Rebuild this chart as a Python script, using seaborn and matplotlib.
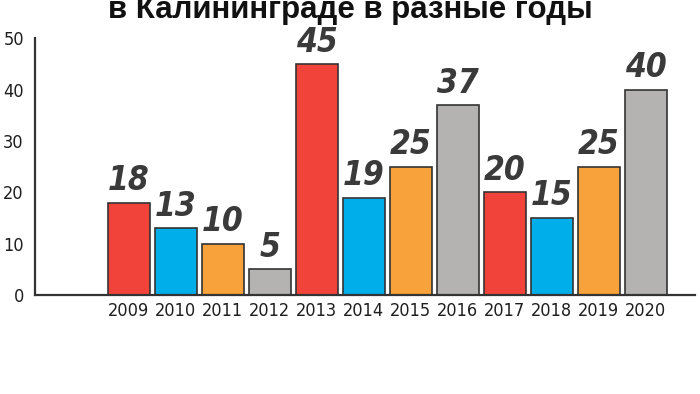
import pandas as pd
import matplotlib.pyplot as plt
import seaborn as sns

# Data
years = ['2009', '2010', '2011', '2012', '2013', '2014',
         '2015', '2016', '2017', '2018', '2019', '2020']
values = [18, 13, 10, 5, 45, 19, 25, 37, 20, 15, 25, 40]
bar_colors = ['#f2433a', '#00aee9', '#f7a23a', '#b5b3b2',
              '#f2433a', '#00aee9', '#f7a23a', '#b5b3b2',
              '#f2433a', '#00aee9', '#f7a23a', '#b5b3b2']
y_ticks = [0, 10, 20, 30, 40, 50]
title = 'в Калининграде в разные годы'

data = pd.DataFrame({'year': years, 'value': values})

sns.set_style('white')
plt.rcParams['font.family'] = ['DejaVu Sans']
plt.rcParams['font.stretch'] = 'condensed'

fig = plt.figure(figsize=(7, 3.94), dpi=100)
ax = fig.add_axes([0.05, 0.2513, 0.943, 0.651])

sns.barplot(data=data, x='year', y='value', hue='year', palette=bar_colors,
            saturation=1, legend=False, width=0.9, edgecolor='#333333',
            linewidth=1.2, ax=ax)

for cont in ax.containers:
    ax.bar_label(cont, fmt='%d', padding=4, fontsize=24, fontweight='bold',
                 fontstyle='italic', fontstretch='condensed', color='#3a3a3a')

ax.set_xlim(-2, 12.05)
ax.set_ylim(0, 50)
ax.set_xlabel('')
ax.set_ylabel('')

for s in ['top', 'right']:
    ax.spines[s].set_visible(False)
for s in ['left', 'bottom']:
    ax.spines[s].set_color('#333333')
    ax.spines[s].set_linewidth(1.6)

ax.set_yticks(y_ticks)
ax.tick_params(axis='y', direction='in', length=12, width=1.6, color='#333333',
               pad=8, labelsize=13, labelcolor='#1e1e1e')
ax.yaxis.get_major_ticks()[-1].tick1line.set_visible(False)
ax.tick_params(axis='x', length=0, pad=5, labelsize=13, labelcolor='#1e1e1e')
for lbl in ax.get_xticklabels() + ax.get_yticklabels():
    lbl.set_fontstretch('condensed')

fig.text(0.5, 0.955, title, ha='center', va='baseline', fontsize=22.5,
         fontweight='bold', color='#111111', fontstretch='normal',
         family=['Liberation Sans', 'DejaVu Sans'])

fig.savefig('out.png', dpi=100)
